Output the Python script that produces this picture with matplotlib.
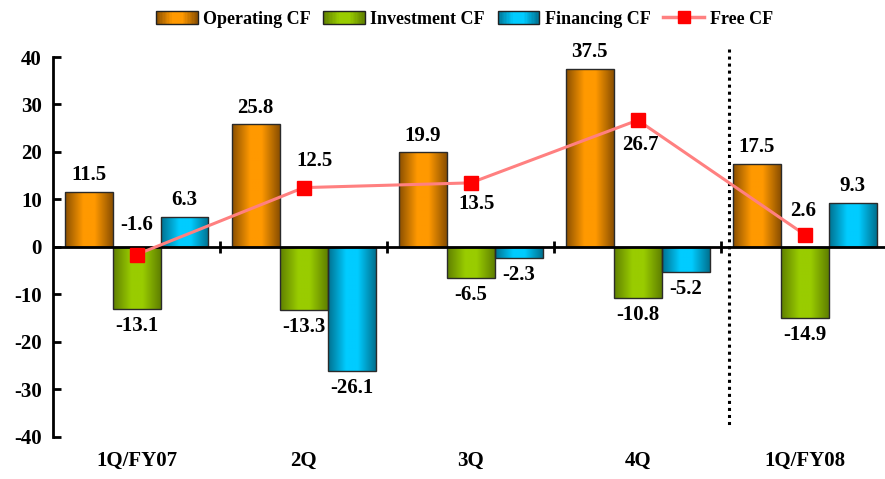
import numpy as np
import matplotlib
matplotlib.use("Agg")
import matplotlib.pyplot as plt
from matplotlib.colors import LinearSegmentedColormap
from matplotlib.patches import Rectangle
from matplotlib.legend_handler import HandlerBase
from matplotlib.lines import Line2D

plt.rcParams['font.family'] = ['Liberation Serif', 'DejaVu Serif']
plt.rcParams['font.weight'] = 'bold'
plt.rcParams['axes.unicode_minus'] = False

# data
quarters = ['1Q/FY07', '2Q', '3Q', '4Q', '1Q/FY08']
operating_cf = [11.5, 25.8, 19.9, 37.5, 17.5]
investment_cf = [-13.1, -13.3, -6.5, -10.8, -14.9]
financing_cf = [6.3, -26.1, -2.3, -5.2, 9.3]
free_cf = [-1.6, 12.5, 13.5, 26.7, 2.6]
series_names = ['Operating CF', 'Investment CF', 'Financing CF', 'Free CF']

# gradient colours (edge, centre)
grad_colors = [('#8a4f00', '#ff9900'), ('#5f7f00', '#99cc00'), ('#00708f', '#00ccff')]

# free cf label offsets in pixels (dx, dy)
free_offsets = [(0, 30), (11, 27), (6, -21), (3, -25), (-2, 24)]


def make_cmap(edge, mid):
    return LinearSegmentedColormap.from_list(
        'g', [(0, edge), (0.38, mid), (0.62, mid), (1, edge)])


cmaps = [make_cmap(*c) for c in grad_colors]


class GradientHandler(HandlerBase):
    def __init__(self, cmap):
        super().__init__()
        self.cmap = cmap

    def create_artists(self, legend, orig_handle, xdescent, ydescent,
                       width, height, fontsize, trans):
        n = 30
        arts = []
        for i in range(n):
            r = Rectangle((-xdescent + width * i / n, -ydescent), width / n + 0.3, height,
                          facecolor=self.cmap((i + 0.5) / n), edgecolor='none',
                          transform=trans)
            arts.append(r)
        arts.append(Rectangle((-xdescent, -ydescent), width, height, facecolor='none',
                              edgecolor='#222222', lw=1.0, transform=trans))
        return arts


fig = plt.figure(figsize=(8.85, 4.79), dpi=100)
ax = fig.add_axes([53 / 885, 0.0877, 1 - 53 / 885, 0.881 - 0.0877])

x = np.arange(len(quarters))
bw = 0.287
grad = np.linspace(0, 1, 256).reshape(1, -1)
fs = 15

for k, vals in enumerate([operating_cf, investment_cf, financing_cf]):
    offs = (k - 1) * bw
    bars = ax.bar(x + offs, vals, bw, facecolor='none', edgecolor='#2a2a2a',
                  lw=1.0, zorder=3)
    for b in bars:
        x0, y0 = b.get_x(), b.get_y()
        w, h = b.get_width(), b.get_height()
        im = ax.imshow(grad, extent=[x0, x0 + w, y0, y0 + h], aspect='auto',
                       cmap=cmaps[k], zorder=2, interpolation='bilinear')
        im.set_clip_path(b)
    for xi, v in zip(x + offs, vals):
        if v >= 0:
            ax.annotate(f'{v:.1f}', (xi, v), xytext=(0, 5), textcoords='offset points',
                        ha='center', va='bottom', fontsize=fs, fontweight='bold')
        else:
            ax.annotate(f'{v:.1f}', (xi, v), xytext=(0, -5), textcoords='offset points',
                        ha='center', va='top', fontsize=fs, fontweight='bold')

ax.plot(x, free_cf, color='#ff8080', lw=2.2, marker='s', markersize=9.5,
        markerfacecolor='red', markeredgecolor='red', zorder=5)
for xi, v, (dx, dy) in zip(x, free_cf, free_offsets):
    ax.annotate(f'{v:.1f}', (xi, v), xytext=(dx * 0.72, dy * 0.72),
                textcoords='offset points', ha='center', va='center',
                fontsize=fs, fontweight='bold', zorder=6)

ax.set_xlim(-0.5, 4.48)
ax.set_ylim(-40, 40)
ax.set_yticks(np.arange(-40, 41, 10))
ax.tick_params(axis='y', direction='in', length=6, width=2, pad=8, labelsize=fs)
ax.set_xticks(x, quarters)
ax.tick_params(axis='x', length=0, pad=10, labelsize=fs)
for lab in ax.get_xticklabels() + ax.get_yticklabels():
    lab.set_fontweight('bold')

for s in ['top', 'right', 'bottom']:
    ax.spines[s].set_visible(False)
ax.spines['left'].set_linewidth(2)

ax.axhline(0, color='black', lw=2, zorder=4)
ax.vlines(x[1:] - 0.5, -1.3, 1.3, color='black', lw=2, zorder=4)

# separator between fiscal years
ax.plot([3.545, 3.545], [41.7, -37.5], color='black', lw=2.2,
        linestyle=(0, (1, 1.3)), clip_on=False, zorder=4)

handles = [Rectangle((0, 0), 1, 1) for _ in range(3)]
handles.append(Line2D([], [], color='#ff8080', lw=2.5, marker='s', markersize=9,
                      markerfacecolor='red', markeredgecolor='red'))
handler_map = {handles[i]: GradientHandler(cmaps[i]) for i in range(3)}
fig.legend(handles, series_names, handler_map=handler_map, loc='upper center',
           bbox_to_anchor=(0.525, 1.012), ncol=4, frameon=False,
           prop={'size': 13, 'weight': 'bold'}, handlelength=2.3,
           handleheight=0.7, handletextpad=0.3, columnspacing=0.7)

fig.savefig('out.png', dpi=100)
